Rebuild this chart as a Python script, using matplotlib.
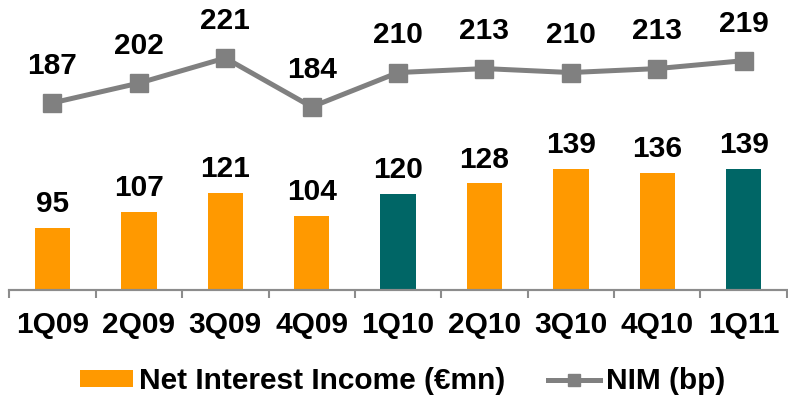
import matplotlib

matplotlib.use("Agg")
import matplotlib.pyplot as plt
from matplotlib.lines import Line2D
from matplotlib.patches import Patch

quarters = ["1Q09", "2Q09", "3Q09", "4Q09", "1Q10", "2Q10", "3Q10", "4Q10", "1Q11"]
nii = [95, 107, 121, 104, 120, 128, 139, 136, 139]
nim = [187, 202, 221, 184, 210, 213, 210, 213, 219]
highlight = ["1Q10", "1Q11"]

ORANGE = "#FF9900"
TEAL = "#006666"
GREY = "#808080"

plt.rcParams["font.family"] = ["Liberation Sans", "DejaVu Sans"]
plt.rcParams["font.weight"] = "bold"
FS = 21.5

fig = plt.figure(figsize=(7.88, 3.98), dpi=100)
W, H = 788, 398
left, right, top, bottom = 9.3, 786.9, 10, 290
ax = fig.add_axes([left / W, 1 - bottom / H, (right - left) / W, (bottom - top) / H])
ax2 = ax.twinx()

x = list(range(len(quarters)))
colors = [TEAL if q in highlight else ORANGE for q in quarters]
ax.bar(x, nii, width=0.41, color=colors, zorder=2)
for xi, v in zip(x, nii):
    ax.annotate(str(v), (xi, v), xytext=(0, 11.5), textcoords="offset points",
                ha="center", va="baseline", fontsize=FS, fontweight="bold")

ax2.plot(x, nim, color=GREY, linewidth=3.6, marker="s", markersize=13, zorder=3)
for xi, v in zip(x, nim):
    ax2.annotate(str(v), (xi, v), xytext=(0, 21), textcoords="offset points",
                 ha="center", va="baseline", fontsize=FS, fontweight="bold")

ax.set_xlim(-0.5, len(quarters) - 0.5)
ax.set_ylim(48.5, 257.5)
ax2.set_ylim(45.2, 257.4)

ax.set_xticks(x)
ax.set_xticklabels(quarters, fontsize=FS, fontweight="bold")
ax.tick_params(axis="x", which="major", length=0, pad=15)
ax.set_xticks([i - 0.5 for i in range(len(quarters) + 1)], minor=True)
ax.tick_params(axis="x", which="minor", length=6, width=1.5, color="#8c8c8c")
ax.set_yticks([])
ax2.set_yticks([])
for a in (ax, ax2):
    for s in ("top", "right", "left"):
        a.spines[s].set_visible(False)
    a.spines["bottom"].set_color("#8c8c8c")
    a.spines["bottom"].set_linewidth(1.5)
    a.patch.set_visible(False)

handles = [
    Patch(facecolor=ORANGE, edgecolor="none", label="Net Interest Income (€mn)"),
    Line2D([], [], color=GREY, linewidth=3.6, marker="s", markersize=9, label="NIM (bp)"),
]
fig.legend(handles=handles, loc="center", bbox_to_anchor=(403 / W, 1 - 381 / H),
           ncol=2, frameon=False, handlelength=1.75, handleheight=0.47,
           handletextpad=0.2, columnspacing=1.45, prop={"weight": "bold", "size": FS})

fig.savefig("out.png", dpi=100)
